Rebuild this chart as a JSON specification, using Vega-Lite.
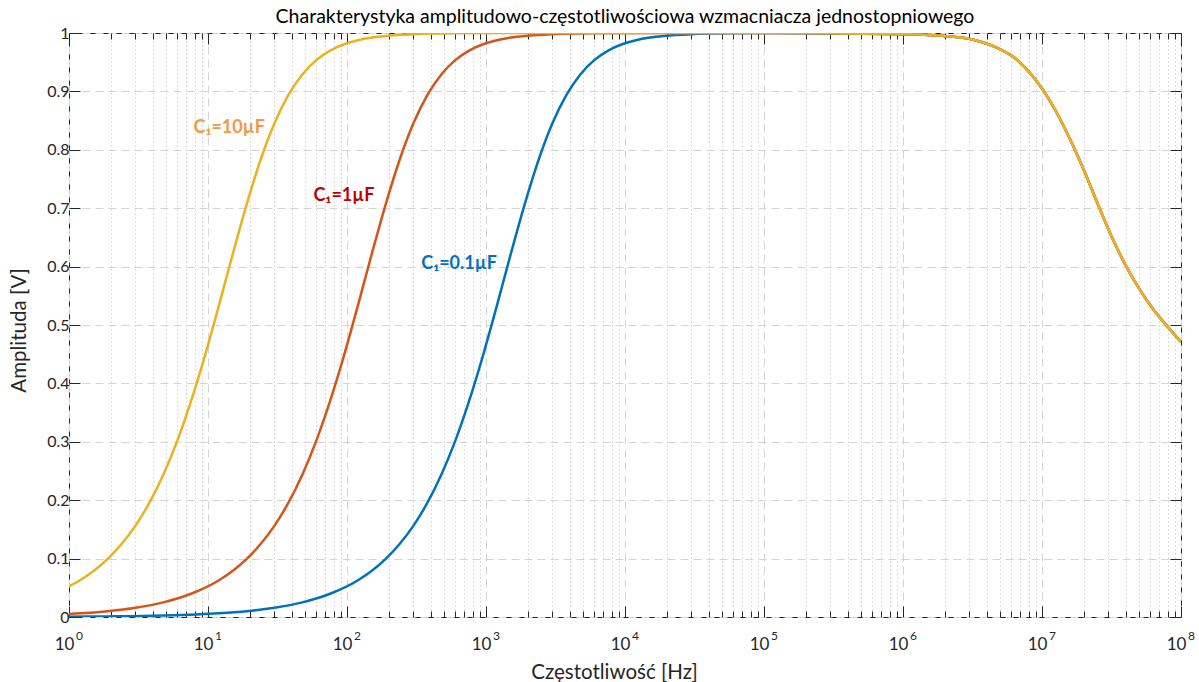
{
  "$schema": "https://vega.github.io/schema/vega-lite/v6.json",
  "autosize": {"type": "none"},
  "padding": {"left": 69, "top": 33, "right": 18, "bottom": 65},
  "width": 1112,
  "height": 584,
  "background": "white",
  "title": {"text": "Charakterystyka amplitudowo-częstotliwościowa wzmacniacza jednostopniowego", "fontSize": 19.5, "fontWeight": "normal", "font": "Lato", "color": "#000000", "offset": -2},
  "config": {"font": "Lato", "view": {"stroke": "#262626", "strokeWidth": 1}},
  "datasets": {
    "curves": [
      {"s": "0.1", "f": 1, "A": 0.0005},
      {"s": "0.1", "f": 1.9, "A": 0.001},
      {"s": "0.1", "f": 4.77, "A": 0.0025},
      {"s": "0.1", "f": 12, "A": 0.0063},
      {"s": "0.1", "f": 19, "A": 0.01},
      {"s": "0.1", "f": 30.1, "A": 0.0159},
      {"s": "0.1", "f": 47.7, "A": 0.0251},
      {"s": "0.1", "f": 75.6, "A": 0.0398},
      {"s": "0.1", "f": 120, "A": 0.063},
      {"s": "0.1", "f": 151, "A": 0.0792},
      {"s": "0.1", "f": 190, "A": 0.0995},
      {"s": "0.1", "f": 239, "A": 0.1249},
      {"s": "0.1", "f": 301, "A": 0.1565},
      {"s": "0.1", "f": 379, "A": 0.1957},
      {"s": "0.1", "f": 477, "A": 0.2436},
      {"s": "0.1", "f": 601, "A": 0.3015},
      {"s": "0.1", "f": 756, "A": 0.3699},
      {"s": "0.1", "f": 952, "A": 0.4481},
      {"s": "0.1", "f": 1199, "A": 0.5336},
      {"s": "0.1", "f": 1509, "A": 0.622},
      {"s": "0.1", "f": 1900, "A": 0.7071},
      {"s": "0.1", "f": 2392, "A": 0.783},
      {"s": "0.1", "f": 3011, "A": 0.8457},
      {"s": "0.1", "f": 3791, "A": 0.894},
      {"s": "0.1", "f": 4773, "A": 0.9291},
      {"s": "0.1", "f": 6008, "A": 0.9535},
      {"s": "0.1", "f": 7564, "A": 0.9699},
      {"s": "0.1", "f": 9523, "A": 0.9807},
      {"s": "0.1", "f": 11990, "A": 0.9877},
      {"s": "0.1", "f": 15090, "A": 0.9922},
      {"s": "0.1", "f": 19000, "A": 0.995},
      {"s": "0.1", "f": 30110, "A": 0.998},
      {"s": "0.1", "f": 60080, "A": 0.9995},
      {"s": "0.1", "f": 100000, "A": 0.9998},
      {"s": "0.1", "f": 316228, "A": 0.9993},
      {"s": "0.1", "f": 1000000, "A": 0.998},
      {"s": "0.1", "f": 1995262, "A": 0.995},
      {"s": "0.1", "f": 3162278, "A": 0.989},
      {"s": "0.1", "f": 3981072, "A": 0.982},
      {"s": "0.1", "f": 5011872, "A": 0.972},
      {"s": "0.1", "f": 6309573, "A": 0.958},
      {"s": "0.1", "f": 7943282, "A": 0.935},
      {"s": "0.1", "f": 10000000, "A": 0.905},
      {"s": "0.1", "f": 12589254, "A": 0.866},
      {"s": "0.1", "f": 15848932, "A": 0.819},
      {"s": "0.1", "f": 19952623, "A": 0.766},
      {"s": "0.1", "f": 25118864, "A": 0.708},
      {"s": "0.1", "f": 31622777, "A": 0.652},
      {"s": "0.1", "f": 39810717, "A": 0.603},
      {"s": "0.1", "f": 50118723, "A": 0.562},
      {"s": "0.1", "f": 63095734, "A": 0.527},
      {"s": "0.1", "f": 79432823, "A": 0.498},
      {"s": "0.1", "f": 100000000, "A": 0.471},

      {"s": "1", "f": 1, "A": 0.0053},
      {"s": "1", "f": 1.2, "A": 0.0063},
      {"s": "1", "f": 1.9, "A": 0.01},
      {"s": "1", "f": 3.01, "A": 0.0159},
      {"s": "1", "f": 4.77, "A": 0.0251},
      {"s": "1", "f": 7.56, "A": 0.0398},
      {"s": "1", "f": 12, "A": 0.063},
      {"s": "1", "f": 15.1, "A": 0.0792},
      {"s": "1", "f": 19, "A": 0.0995},
      {"s": "1", "f": 23.9, "A": 0.1249},
      {"s": "1", "f": 30.1, "A": 0.1565},
      {"s": "1", "f": 37.9, "A": 0.1957},
      {"s": "1", "f": 47.7, "A": 0.2436},
      {"s": "1", "f": 60.1, "A": 0.3015},
      {"s": "1", "f": 75.6, "A": 0.3699},
      {"s": "1", "f": 95.2, "A": 0.4481},
      {"s": "1", "f": 119.9, "A": 0.5336},
      {"s": "1", "f": 150.9, "A": 0.622},
      {"s": "1", "f": 190, "A": 0.7071},
      {"s": "1", "f": 239.2, "A": 0.783},
      {"s": "1", "f": 301.1, "A": 0.8457},
      {"s": "1", "f": 379.1, "A": 0.894},
      {"s": "1", "f": 477.3, "A": 0.9291},
      {"s": "1", "f": 600.8, "A": 0.9535},
      {"s": "1", "f": 756.4, "A": 0.9699},
      {"s": "1", "f": 952.3, "A": 0.9807},
      {"s": "1", "f": 1199, "A": 0.9877},
      {"s": "1", "f": 1509, "A": 0.9922},
      {"s": "1", "f": 1900, "A": 0.995},
      {"s": "1", "f": 3011, "A": 0.998},
      {"s": "1", "f": 6008, "A": 0.9995},
      {"s": "1", "f": 19000, "A": 1},
      {"s": "1", "f": 100000, "A": 1},
      {"s": "1", "f": 316228, "A": 0.9995},
      {"s": "1", "f": 1000000, "A": 0.998},
      {"s": "1", "f": 1995262, "A": 0.995},
      {"s": "1", "f": 3162278, "A": 0.989},
      {"s": "1", "f": 3981072, "A": 0.982},
      {"s": "1", "f": 5011872, "A": 0.972},
      {"s": "1", "f": 6309573, "A": 0.958},
      {"s": "1", "f": 7943282, "A": 0.935},
      {"s": "1", "f": 10000000, "A": 0.905},
      {"s": "1", "f": 12589254, "A": 0.866},
      {"s": "1", "f": 15848932, "A": 0.819},
      {"s": "1", "f": 19952623, "A": 0.766},
      {"s": "1", "f": 25118864, "A": 0.708},
      {"s": "1", "f": 31622777, "A": 0.652},
      {"s": "1", "f": 39810717, "A": 0.603},
      {"s": "1", "f": 50118723, "A": 0.562},
      {"s": "1", "f": 63095734, "A": 0.527},
      {"s": "1", "f": 79432823, "A": 0.498},
      {"s": "1", "f": 100000000, "A": 0.471},

      {"s": "10", "f": 1, "A": 0.0525},
      {"s": "10", "f": 1.2, "A": 0.063},
      {"s": "10", "f": 1.51, "A": 0.0792},
      {"s": "10", "f": 1.9, "A": 0.0995},
      {"s": "10", "f": 2.39, "A": 0.1249},
      {"s": "10", "f": 3.01, "A": 0.1565},
      {"s": "10", "f": 3.79, "A": 0.1957},
      {"s": "10", "f": 4.77, "A": 0.2436},
      {"s": "10", "f": 6.01, "A": 0.3015},
      {"s": "10", "f": 7.56, "A": 0.3699},
      {"s": "10", "f": 9.52, "A": 0.4481},
      {"s": "10", "f": 11.99, "A": 0.5336},
      {"s": "10", "f": 15.09, "A": 0.622},
      {"s": "10", "f": 19, "A": 0.7071},
      {"s": "10", "f": 23.92, "A": 0.783},
      {"s": "10", "f": 30.11, "A": 0.8457},
      {"s": "10", "f": 37.91, "A": 0.894},
      {"s": "10", "f": 47.73, "A": 0.9291},
      {"s": "10", "f": 60.08, "A": 0.9535},
      {"s": "10", "f": 75.64, "A": 0.9699},
      {"s": "10", "f": 95.23, "A": 0.9807},
      {"s": "10", "f": 119.9, "A": 0.9877},
      {"s": "10", "f": 150.9, "A": 0.9922},
      {"s": "10", "f": 190, "A": 0.995},
      {"s": "10", "f": 301, "A": 0.998},
      {"s": "10", "f": 601, "A": 0.9995},
      {"s": "10", "f": 1900, "A": 1},
      {"s": "10", "f": 100000, "A": 1},
      {"s": "10", "f": 316228, "A": 0.9995},
      {"s": "10", "f": 1000000, "A": 0.998},
      {"s": "10", "f": 1995262, "A": 0.995},
      {"s": "10", "f": 3162278, "A": 0.989},
      {"s": "10", "f": 3981072, "A": 0.982},
      {"s": "10", "f": 5011872, "A": 0.972},
      {"s": "10", "f": 6309573, "A": 0.958},
      {"s": "10", "f": 7943282, "A": 0.935},
      {"s": "10", "f": 10000000, "A": 0.905},
      {"s": "10", "f": 12589254, "A": 0.866},
      {"s": "10", "f": 15848932, "A": 0.819},
      {"s": "10", "f": 19952623, "A": 0.766},
      {"s": "10", "f": 25118864, "A": 0.708},
      {"s": "10", "f": 31622777, "A": 0.652},
      {"s": "10", "f": 39810717, "A": 0.603},
      {"s": "10", "f": 50118723, "A": 0.562},
      {"s": "10", "f": 63095734, "A": 0.527},
      {"s": "10", "f": 79432823, "A": 0.498},
      {"s": "10", "f": 100000000, "A": 0.471}
    ],
    "notes": [
      {"s": "10", "f": 14.2, "A": 0.837, "t": "C₁=10µF"},
      {"s": "1", "f": 95, "A": 0.721, "t": "C₁=1µF"},
      {"s": "0.1", "f": 640, "A": 0.604, "t": "C₁=0.1µF"}
    ]
  },
  "resolve": {"scale": {"color": "independent"}, "axis": {"x": "independent", "y": "independent"}},
  "layer": [
    {
      "data": {"name": "curves"},
      "mark": {"type": "line", "strokeWidth": 2.5, "interpolate": "monotone", "clip": true},
      "encoding": {
        "x": {
          "field": "f", "type": "quantitative",
          "scale": {"type": "log", "domain": [1, 100000000], "nice": false},
          "axis": {
            "orient": "bottom",
            "values": [1,2,3,4,5,6,7,8,9,10,20,30,40,50,60,70,80,90,100,200,300,400,500,600,700,800,900,1000,2000,3000,4000,5000,6000,7000,8000,9000,10000,20000,30000,40000,50000,60000,70000,80000,90000,100000,200000,300000,400000,500000,600000,700000,800000,900000,1000000,2000000,3000000,4000000,5000000,6000000,7000000,8000000,9000000,10000000,20000000,30000000,40000000,50000000,60000000,70000000,80000000,90000000,100000000],
            "labelExpr": "abs(log(datum.value)/LN10 - round(log(datum.value)/LN10)) < 0.000001 ? '10' : ''",
            "labelFontSize": 17, "labelColor": "#262626", "labelPadding": 30, "labelOffset": -5,
            "labelFlush": false, "labelOverlap": false, "labelBound": false,
            "grid": true,
            "gridColor": {"condition": {"test": "abs(log(datum.value)/LN10 - round(log(datum.value)/LN10)) < 0.000001", "value": "#d4d4d4"}, "value": "#bdbdbd"},
            "gridDash": {"condition": {"test": "abs(log(datum.value)/LN10 - round(log(datum.value)/LN10)) < 0.000001", "value": [8, 5]}, "value": [1, 3]},
            "tickColor": "#262626",
            "tickSize": {"condition": {"test": "abs(log(datum.value)/LN10 - round(log(datum.value)/LN10)) < 0.000001", "value": -11}, "value": -6},
            "domain": false,
            "title": "Częstotliwość [Hz]", "titleFontSize": 20.5, "titleFontWeight": "normal", "titleColor": "#262626", "titlePadding": 5, "titleX": 545
          }
        },
        "y": {
          "field": "A", "type": "quantitative",
          "scale": {"domain": [0, 1], "nice": false},
          "axis": {
            "orient": "left",
            "values": [0, 0.1, 0.2, 0.3, 0.4, 0.5, 0.6, 0.7, 0.8, 0.9, 1],
            "format": "~g",
            "labelFontSize": 16, "labelColor": "#262626", "labelPadding": 11,
            "grid": true, "gridColor": "#d4d4d4", "gridDash": [8, 5],
            "tickSize": -11, "tickColor": "#262626", "domain": false,
            "title": "Amplituda [V]", "titleFontSize": 20.5, "titleFontWeight": "normal", "titleColor": "#262626", "titlePadding": 17, "titleY": 297
          }
        },
        "color": {"field": "s", "type": "nominal", "scale": {"domain": ["0.1", "1", "10"], "range": ["#0072BD", "#D95319", "#EDB120"]}, "legend": null}
      }
    },
    {
      "data": {"name": "notes"},
      "mark": {"type": "text", "fontSize": 18, "fontWeight": "bold", "font": "Lato", "align": "center", "baseline": "middle"},
      "encoding": {
        "x": {
          "field": "f", "type": "quantitative",
          "axis": {
            "orient": "top",
            "values": [1,2,3,4,5,6,7,8,9,10,20,30,40,50,60,70,80,90,100,200,300,400,500,600,700,800,900,1000,2000,3000,4000,5000,6000,7000,8000,9000,10000,20000,30000,40000,50000,60000,70000,80000,90000,100000,200000,300000,400000,500000,600000,700000,800000,900000,1000000,2000000,3000000,4000000,5000000,6000000,7000000,8000000,9000000,10000000,20000000,30000000,40000000,50000000,60000000,70000000,80000000,90000000,100000000],
            "labels": false, "grid": false, "domain": false, "tickColor": "#262626",
            "tickSize": {"condition": {"test": "abs(log(datum.value)/LN10 - round(log(datum.value)/LN10)) < 0.000001", "value": -11}, "value": -6},
            "title": null
          }
        },
        "y": {
          "field": "A", "type": "quantitative",
          "axis": {
            "orient": "right",
            "values": [0, 0.1, 0.2, 0.3, 0.4, 0.5, 0.6, 0.7, 0.8, 0.9, 1],
            "labels": false, "grid": false, "domain": false,
            "tickSize": -11, "tickColor": "#262626", "title": null
          }
        },
        "text": {"field": "t", "type": "nominal"},
        "color": {"field": "s", "type": "nominal", "scale": {"domain": ["0.1", "1", "10"], "range": ["#0070C0", "#C00000", "#F79646"]}, "legend": null}
      }
    },
    {
      "data": {"name": "notes"},
      "mark": {"type": "point", "opacity": 0},
      "encoding": {
        "x": {
          "field": "f", "type": "quantitative",
          "axis": {
            "orient": "bottom",
            "values": [1, 10, 100, 1000, 10000, 100000, 1000000, 10000000, 100000000],
            "labelExpr": "'' + round(log(datum.value)/LN10)",
            "labelFontSize": 12, "labelColor": "#262626", "labelPadding": 13, "labelOffset": 10,
            "labelFlush": false, "labelOverlap": false, "labelBound": false,
            "ticks": false, "grid": false, "domain": false, "title": null
          }
        },
        "y": {"field": "A", "type": "quantitative", "axis": null}
      }
    }
  ]
}
